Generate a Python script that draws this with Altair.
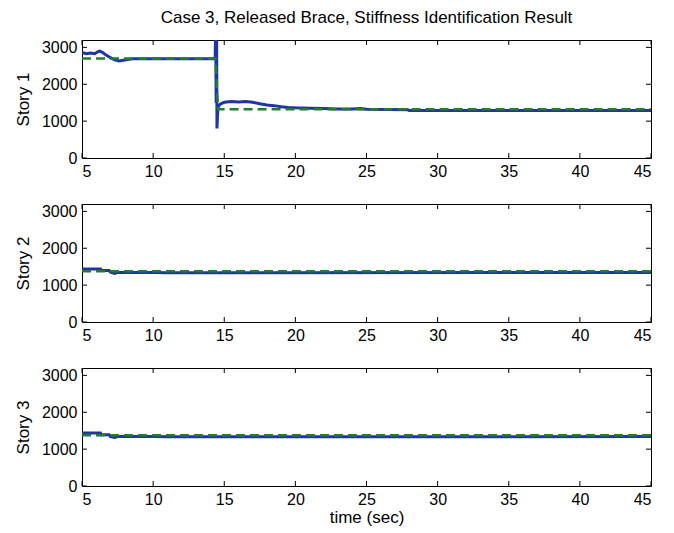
import altair as alt
import pandas as pd

TITLE = "Case 3, Released Brace, Stiffness Identification Result"
X_TITLE = "time (sec)"
STORIES = ["Story 1", "Story 2", "Story 3"]
X_TICKS = [5, 10, 15, 20, 25, 30, 35, 40, 45]
Y_TICKS = [0, 1000, 2000, 3000]

# identified stiffness (blue, solid)
s1_t = [5.0, 5.3, 5.6, 5.9, 6.1, 6.25, 6.45, 6.7, 7.0, 7.3, 7.6, 7.9, 8.2, 8.6,
        14.36, 14.40, 14.43, 14.46, 14.49, 14.52, 14.56, 14.62, 14.75, 15.0, 15.5,
        16.0, 16.5, 17.0, 17.5, 18.0, 18.5, 19.0, 19.5, 20.0, 21.0, 22.0, 23.0,
        24.0, 24.6, 25.0, 27.9, 28.0, 45.0]
s1_v = [2860, 2830, 2850, 2830, 2880, 2900, 2860, 2790, 2720, 2660, 2630, 2650, 2670, 2690,
        2690, 3600, 1500, 3600, 800, 1100, 1350, 1420, 1470, 1510, 1530,
        1520, 1530, 1510, 1470, 1440, 1420, 1390, 1370, 1360, 1350, 1340, 1330,
        1330, 1340, 1320, 1310, 1285, 1285]
s2_t = [5.0, 6.3, 6.35, 6.9, 7.0, 7.3, 7.5, 10.0, 11.0, 45.0]
s2_v = [1440, 1440, 1400, 1400, 1350, 1320, 1345, 1345, 1335, 1345]
s3_t = [5.0, 6.3, 6.35, 6.9, 7.0, 7.3, 7.5, 10.0, 11.0, 45.0]
s3_v = [1440, 1440, 1390, 1390, 1340, 1315, 1340, 1340, 1335, 1340]

# true stiffness (green, dashed)
r1_t = [5.0, 14.38, 14.56, 45.0]
r1_v = [2700, 2700, 1320, 1320]
r2_t = [5.0, 45.0]
r2_v = [1375, 1375]
r3_t = [5.0, 45.0]
r3_v = [1375, 1375]

BLUE = "#2233a6"
GREEN = "#1f7f30"
FONT = "Liberation Sans"
W, H = 569, 118

xs = alt.Scale(domain=[5, 45], nice=False, zero=False)
ys = alt.Scale(domain=[0, 3200], nice=False)

xt = pd.DataFrame({"t": X_TICKS})
yt = pd.DataFrame({"v": Y_TICKS})


def panel(name, t, v, rt, rv, bottom):
    d = pd.DataFrame({"t": t, "v": v})
    r = pd.DataFrame({"t": rt, "v": rv})
    xaxis = alt.Axis(values=X_TICKS, ticks=False, domain=False, grid=False,
                     labelPadding=5, labelFontSize=16, labelFont=FONT,
                     labelColor="black", labelOverlap=False, format="d",
                     title=X_TITLE if bottom else None,
                     titleFontSize=17, titleFont=FONT, titleFontWeight="normal",
                     titleColor="black", titlePadding=2)
    yaxis = alt.Axis(values=Y_TICKS, ticks=False, domain=False, grid=False,
                     labelPadding=5, labelFontSize=16, labelFont=FONT,
                     labelColor="black", labelOverlap=False, format="d",
                     labelBound=False, title=name, titleFontSize=17,
                     titleFont=FONT, titleFontWeight="normal", titleColor="black",
                     titlePadding=9)
    X = lambda: alt.X("t:Q", scale=xs, axis=xaxis)
    Y = lambda: alt.Y("v:Q", scale=ys, axis=yaxis)
    blue = alt.Chart(d).mark_line(color=BLUE, strokeWidth=3, clip=True).encode(
        x=X(), y=Y())
    green = alt.Chart(r).mark_line(color=GREEN, strokeWidth=2.5, strokeDash=[9, 5],
                                   clip=True).encode(x=X(), y=Y())
    tb = alt.Chart(xt).mark_rule(color="black", strokeWidth=1).encode(
        x=X(), y=alt.value(H), y2=alt.value(H - 5))
    tt = alt.Chart(xt).mark_rule(color="black", strokeWidth=1).encode(
        x=X(), y=alt.value(0), y2=alt.value(5))
    tl = alt.Chart(yt).mark_rule(color="black", strokeWidth=1).encode(
        y=Y(), x=alt.value(0), x2=alt.value(5))
    tr = alt.Chart(yt).mark_rule(color="black", strokeWidth=1).encode(
        y=Y(), x=alt.value(W), x2=alt.value(W - 5))
    return alt.layer(blue, green, tb, tt, tl, tr).properties(width=W, height=H)


p1 = panel(STORIES[0], s1_t, s1_v, r1_t, r1_v, False).properties(
    title=alt.TitleParams(TITLE, anchor="middle", frame="group", fontSize=17,
                          font=FONT, fontWeight="normal", color="black", offset=12))
p2 = panel(STORIES[1], s2_t, s2_v, r2_t, r2_v, False)
p3 = panel(STORIES[2], s3_t, s3_v, r3_t, r3_v, True)

chart = alt.vconcat(p1, p2, p3, spacing=46, bounds="flush").properties(
    padding={"left": 5, "top": 0, "right": 5, "bottom": 5}
).configure(background="white").configure_view(stroke="black", strokeWidth=1)

chart.save("out.html", embed_options={"renderer": "svg", "actions": False})
